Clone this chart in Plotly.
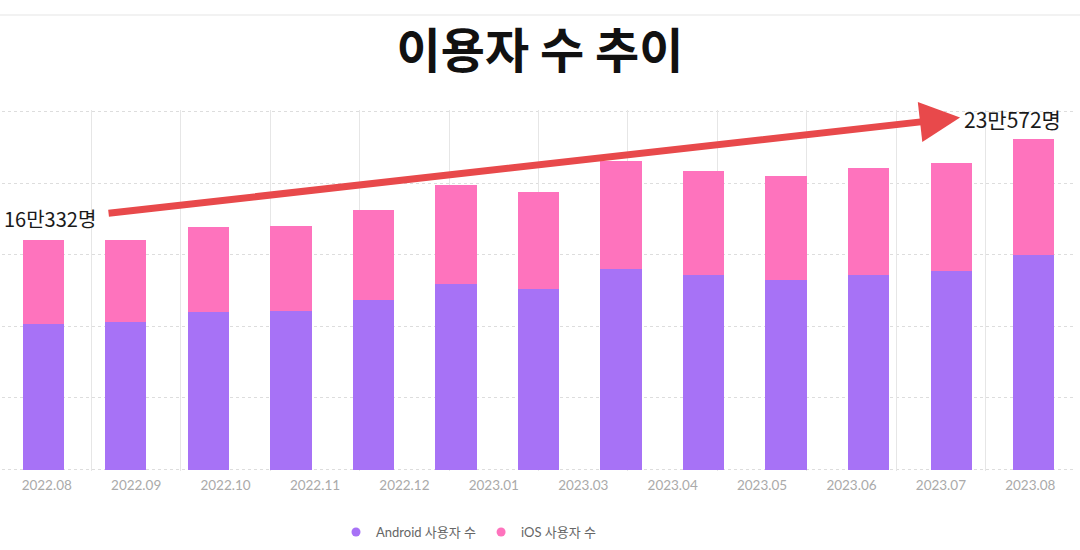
import plotly.graph_objects as go

# ---- data ----
months = ["2022.08", "2022.09", "2022.10", "2022.11", "2022.12", "2023.01", "2023.02",
          "2023.03", "2023.04", "2023.05", "2023.06", "2023.07", "2023.08"]
android_users = [101800, 103200, 110000, 110500, 118600, 129700, 125800,
                 140000, 136000, 132500, 136000, 138600, 149800]
ios_users = [58532, 57400, 59500, 59500, 62600, 69000, 68200,
             75600, 72200, 72500, 74500, 75400, 80772]
tick_labels = ["2022.08", "2022.09", "2022.10", "2022.11", "2022.12", "2023.01",
               "2023.03", "2023.04", "2023.05", "2023.06", "2023.07", "2023.08"]
start_label = "16만332명"
end_label = "23만572명"
title_text = "이용자 수 추이"
series_names = ["Android 사용자 수", "iOS 사용자 수"]

PURPLE = "#a772f6"
PINK = "#fe73bd"
RED = "#e8494b"
CJK = "Noto Sans CJK KR"
LAT = "Lato, Noto Sans CJK KR"

# plot-area geometry (pixels)
PL, PR = 1.5, 1075.0
Y0PX, Y250PX = 469.5, 111.5
PAD = 1000  # small y padding so the end grid lines are drawn
pxper = (Y0PX - Y250PX) / 250000
top_px = Y250PX - PAD * pxper
bot_px = Y0PX + PAD * pxper


def py(pix):
    return (bot_px - pix) / (bot_px - top_px)


def px(pix):
    return (pix - PL) / (PR - PL)


fig = go.Figure()
fig.add_trace(go.Bar(x=months, y=android_users, marker=dict(color=PURPLE, line_width=0),
                     showlegend=False, name=series_names[0]))
fig.add_trace(go.Bar(x=months, y=ios_users, marker=dict(color=PINK, line_width=0),
                     showlegend=False, name=series_names[1]))
# legend entries with round markers
for nm, col in zip(series_names, [PURPLE, PINK]):
    fig.add_trace(go.Scatter(x=[None], y=[None], mode="markers", name=nm,
                             marker=dict(color=col, size=9, symbol="circle")))
# label axis (12 labels, drawn over the 13-bar axis)
fig.add_trace(go.Scatter(x=tick_labels, y=[0] * len(tick_labels), xaxis="x2", mode="markers",
                         marker=dict(opacity=0), showlegend=False, hoverinfo="skip"))

fig.update_layout(
    barmode="stack", bargap=0.5,
    width=1080, height=550,
    margin=dict(l=PL, r=1080 - PR, t=top_px, b=550 - bot_px),
    paper_bgcolor="white", plot_bgcolor="white",
    title=dict(text=title_text, x=0.5, xref="container", xanchor="center",
               y=1 - 51 / 550, yref="container", yanchor="middle",
               font=dict(family=CJK, size=48, color="#111111", weight="bold")),
    xaxis=dict(type="category", range=[-0.5, len(months) - 0.5], showticklabels=False,
               showgrid=False, zeroline=False, showline=False, fixedrange=True),
    xaxis2=dict(type="category", overlaying="x", side="bottom",
                range=[-0.5, len(tick_labels) - 0.5], tickson="boundaries",
                showgrid=True, gridcolor="#e6e6e6", gridwidth=1, ticks="",
                showline=False, zeroline=False, ticklabelstandoff=4,
                tickfont=dict(family=LAT, size=13.5, color="#aaaaaa")),
    yaxis=dict(range=[-PAD, 250000 + PAD], tickmode="linear", tick0=0, dtick=50000,
               showticklabels=False, showgrid=True,
               gridcolor="#dddddd", griddash="3px,3px", gridwidth=1, zeroline=False,
               showline=False),
    legend=dict(orientation="h", xref="container", x=336 / 1080, xanchor="left",
                yref="container", y=1 - 532 / 550, yanchor="middle", traceorder="normal",
                font=dict(family=LAT, size=13, color="#666666"),
                itemwidth=30, bgcolor="rgba(0,0,0,0)"),
    showlegend=True,
)

# faint top separator
fig.add_shape(type="line", xref="paper", yref="paper", x0=-0.01, x1=1.01,
              y0=py(15), y1=py(15), line=dict(color="#f2f2f2", width=2))

# trend arrow
fig.add_annotation(xref="paper", yref="paper", x=px(960), y=py(117.5),
                   ax=-853, ay=96, axref="pixel", ayref="pixel", text="", showarrow=True,
                   arrowhead=2, arrowsize=1.15, arrowwidth=7, arrowcolor=RED)
fig.add_annotation(xref="paper", yref="paper", x=px(1), y=py(219),
                   xanchor="left", yanchor="middle", text=start_label, showarrow=False,
                   font=dict(family=CJK, size=20, color="#1a1a1a"))
fig.add_annotation(xref="paper", yref="paper", x=px(962), y=py(119),
                   xanchor="left", yanchor="middle", text=end_label, showarrow=False,
                   font=dict(family=CJK, size=21, color="#1a1a1a"))

fig.write_html("out.html")
